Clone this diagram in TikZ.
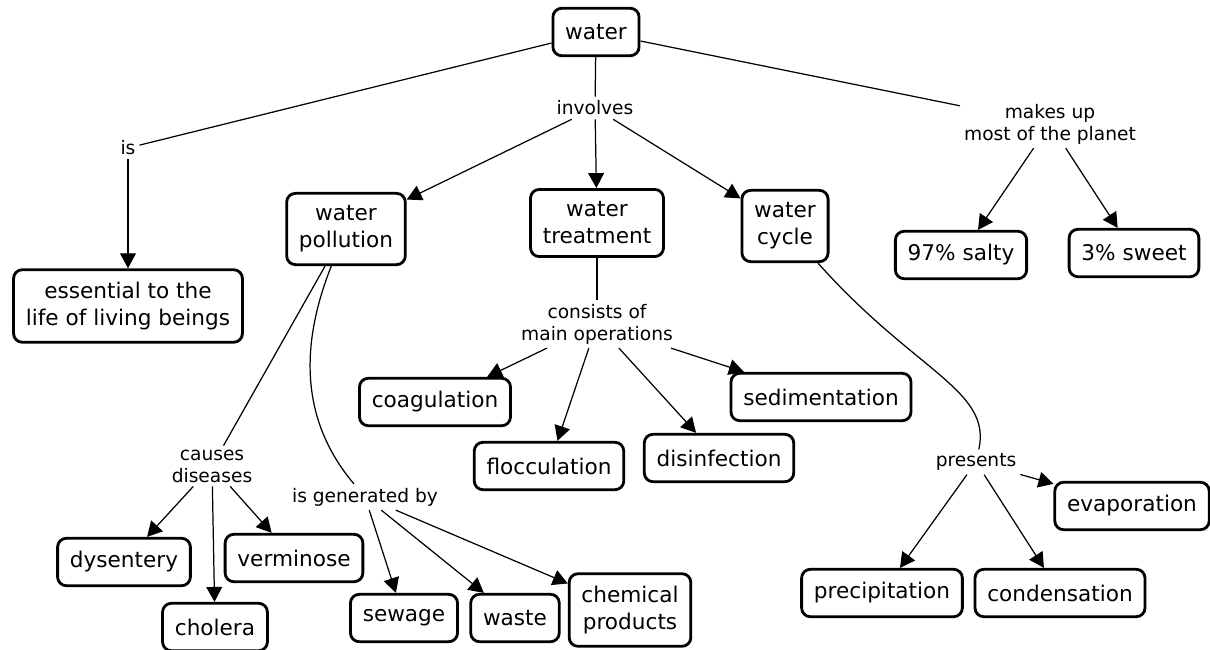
\documentclass[tikz,border=0pt]{standalone}
\usepackage{fontspec}
\setmainfont{DejaVu Sans}
\usetikzlibrary{arrows.meta}

\begin{document}
\begin{tikzpicture}[x=0.02cm,y=-0.02cm,line width=0.7pt,
        concept/.style={draw,line width=1.6pt,rounded corners=5pt,align=center,
            inner xsep=7pt,inner ysep=7pt,minimum height=27pt,
            font=\fontsize{12.3}{15.4}\selectfont},
        link/.style={align=center,inner sep=2pt,font=\fontsize{10.6}{12.5}\selectfont},
        arr/.style={-{Triangle[length=8.5pt,width=9pt]}}]
            \useasboundingbox (0,0) rectangle (1210,649);
            \node[concept] (water) at (596,32) {water};
            \node[link] (is) at (128,148) {is};
            \node[link] (involves) at (595,108) {involves};
            \node[link] (makes) at (1050,124) {makes up\\most of the planet};
            \node[concept] (pollution) at (346,229) {water\\pollution};
            \node[concept] (treatment) at (597,223) {water\\treatment};
            \node[concept] (cycle) at (785,226) {water\\cycle};
            \node[concept] (salty) at (961,255) {97\% salty};
            \node[concept] (sweet) at (1134,253) {3\% sweet};
            \node[concept] (essential) at (128,306) {essential to the\\life of living beings};
            \node[link] (consists) at (597,324) {consists of\\main operations};
            \node[concept] (coag) at (435,402) {coagulation};
            \node[concept] (sedim) at (821,397) {sedimentation};
            \node[concept] (flocc) at (549,466) {flocculation};
            \node[concept] (disinf) at (719,458) {disinfection};
            \node[link] (causes) at (212,466) {causes\\diseases};
            \node[link] (generated) at (365,497) {is generated by};
            \node[link] (presents) at (976,462) {presents};
            \node[concept] (evap) at (1132,506) {evaporation};
            \node[concept] (dysentery) at (124,562) {dysentery};
            \node[concept] (verminose) at (294,558) {verminose};
            \node[concept] (cholera) at (215,627) {cholera};
            \node[concept] (sewage) at (404,618) {sewage};
            \node[concept] (waste) at (515,618) {waste};
            \node[concept] (chemical) at (630,610) {chemical\\products};
            \node[concept] (precip) at (882,593) {precipitation};
            \node[concept] (condens) at (1060,593) {condensation};
            \draw (water) -- (is);
            \draw[arr] (is) -- (essential);
            \draw (water) -- (involves);
            \draw[arr] (involves) -- (pollution);
            \draw[arr] (involves) -- (treatment);
            \draw[arr] (involves) -- (cycle);
            \draw (water) -- (makes);
            \draw[arr] (makes) -- (salty);
            \draw[arr] (makes) -- (sweet);
            \draw (treatment) -- (consists);
            \draw[arr] (consists) -- (coag);
            \draw[arr] (consists) -- (flocc);
            \draw[arr] (consists) -- (disinf);
            \draw[arr] (consists) -- (sedim);
            \draw (pollution) -- (causes);
            \draw[arr] (causes) -- (dysentery);
            \draw[arr] (causes) -- (cholera);
            \draw[arr] (causes) -- (verminose);
            \draw (pollution) .. controls (300,345) and (300,420) .. (generated);
            \draw[arr] (generated) -- (sewage);
            \draw[arr] (generated) -- (waste);
            \draw[arr] (generated) -- (chemical);
            \draw (cycle) .. controls (915,372) and (992,390) .. (presents);
            \draw[arr] (presents) -- (precip);
            \draw[arr] (presents) -- (condens);
            \draw[arr] (presents) -- (evap);
        \end{tikzpicture}
\end{document}
